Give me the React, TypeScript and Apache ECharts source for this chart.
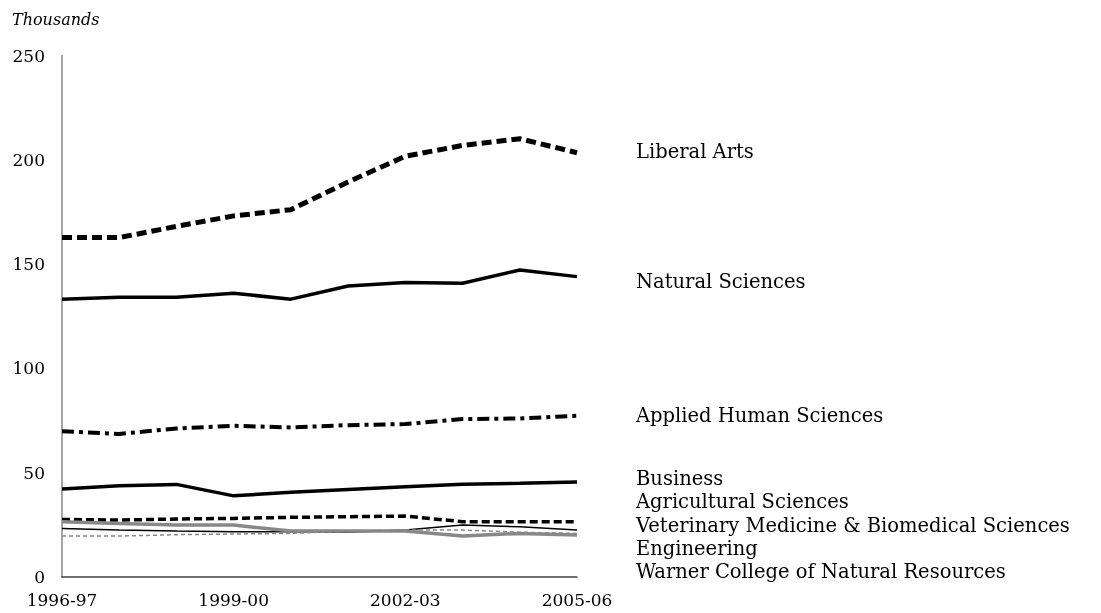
import React, { useEffect, useRef } from "react";
import * as echarts from "echarts";

const years = ["1996-97", "1997-98", "1998-99", "1999-00", "2000-01", "2001-02", "2002-03", "2003-04", "2004-05", "2005-06"];
const liberalArts = [162.7, 162.7, 168.1, 173.1, 176.1, 189.4, 201.7, 206.9, 210.1, 203.4];
const naturalSciences = [133.2, 134.1, 134.1, 136.0, 133.2, 139.5, 141.2, 140.8, 147.2, 144.0];
const appliedHuman = [69.9, 68.6, 71.2, 72.5, 71.7, 72.8, 73.3, 75.7, 76.0, 77.3];
const business = [42.2, 43.7, 44.4, 38.9, 40.6, 42.0, 43.3, 44.5, 44.9, 45.6];
const agricultural = [27.6, 27.3, 27.8, 28.1, 28.6, 28.9, 29.2, 26.5, 26.5, 26.5];
const veterinary = [23.3, 22.5, 22.0, 21.7, 21.7, 21.4, 22.5, 24.9, 24.1, 22.5];
const engineering = [19.6, 19.6, 20.3, 20.6, 20.9, 22.0, 22.5, 22.5, 21.5, 20.9];
const warner = [26.5, 25.7, 24.9, 24.9, 22.0, 22.0, 22.1, 19.6, 20.9, 20.1];

const FONT = "DejaVu Serif";

export default function App() {
  const ref = useRef<HTMLDivElement>(null);
  useEffect(() => {
    if (!ref.current) return;
    const chart = echarts.init(ref.current, null, { renderer: "svg" });
    const mk = (name: string, data: number[], color: string, width: number, type: any, dy: number) => ({
      name,
      type: "line",
      data,
      symbol: "none",
      lineStyle: { color, width, type, cap: "butt" },
      endLabel: {
        show: true,
        formatter: "{a}",
        distance: 59,
        offset: [0, dy],
        color: "#000",
        fontFamily: FONT,
        fontSize: 19.5,
        lineHeight: 17,
      },
      emphasis: { disabled: true },
    });
    chart.setOption({
      animation: false,
      title: {
        text: "Thousands",
        left: 12,
        top: 11,
        padding: 0,
        textStyle: { fontFamily: FONT, fontStyle: "italic", fontWeight: "normal", fontSize: 16, color: "#000" },
      },
      grid: { left: 62, right: 524, top: 55.5, bottom: 36 },
      xAxis: {
        type: "category",
        data: years,
        boundaryGap: false,
        axisLine: { lineStyle: { color: "#404040", width: 1.5 } },
        axisTick: { show: false },
        axisLabel: { interval: 2, color: "#000", fontFamily: FONT, fontSize: 17, margin: 14 },
      },
      yAxis: {
        type: "value",
        min: 0,
        max: 250,
        interval: 50,
        axisLine: { show: true, lineStyle: { color: "#888", width: 1.5 } },
        axisTick: { show: false },
        splitLine: { show: false },
        axisLabel: { color: "#000", fontFamily: FONT, fontSize: 17, margin: 17 },
      },
      series: [
        mk("Liberal Arts", liberalArts, "#000", 5, [10, 5], -1),
        mk("Natural Sciences", naturalSciences, "#000", 3.5, "solid", 5),
        mk("Applied Human Sciences", appliedHuman, "#000", 4, [12, 5, 4, 5], 0),
        mk("Business", business, "#000", 3.5, "solid", -3),
        mk("Agricultural Sciences", agricultural, "#000", 3.5, [8, 4], -20),
        mk("Veterinary Medicine & Biomedical Sciences", veterinary, "#000", 1.5, "solid", -5),
        mk("Engineering", engineering, "#888", 1.5, [4, 3], 15),
        mk("Warner College of Natural Resources", warner, "#888", 3.5, "solid", 36),
      ],
    });
    return () => chart.dispose();
  }, []);
  return <div ref={ref} style={{ position: "fixed", left: 0, top: 0, width: 1101, height: 613 }} />;
}
